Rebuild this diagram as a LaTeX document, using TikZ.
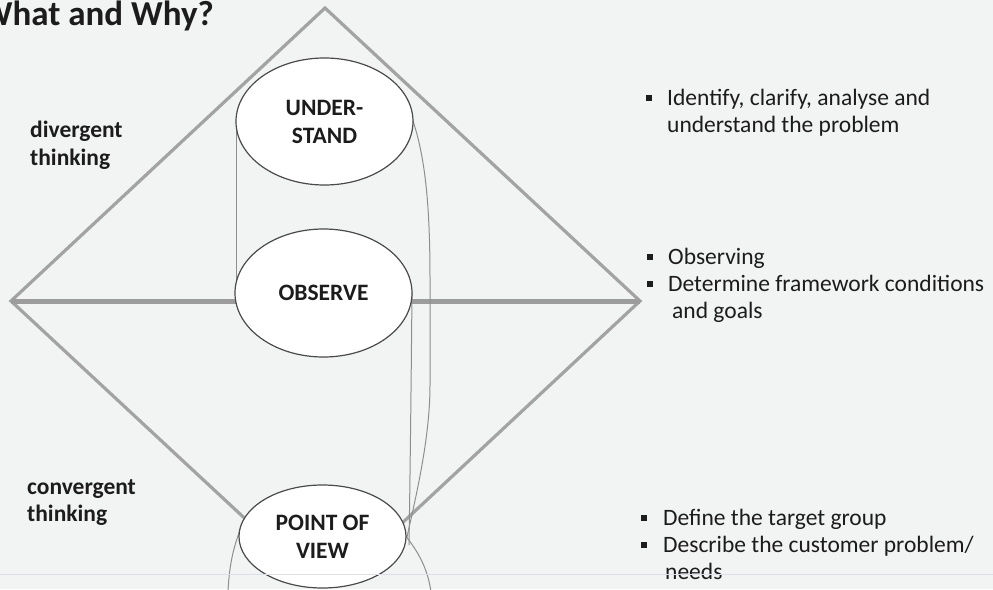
\documentclass[tikz,border=0pt]{standalone}
\usepackage{fontspec}
\setmainfont{Carlito}
\usetikzlibrary{shapes.geometric}
\definecolor{bg}{HTML}{F2F3F3}
\definecolor{dia}{HTML}{A3A3A3}
\definecolor{hl}{HTML}{9C9C9C}
\definecolor{edge}{HTML}{4A4A4A}
\definecolor{thinc}{HTML}{8E8E8E}
\definecolor{txt}{HTML}{1C1C1C}
\definecolor{seam}{HTML}{DCE0E5}
\begin{document}
\begin{tikzpicture}[x=1pt,y=-1pt,
  diaedge/.style={draw=dia, line width=3.2pt, line join=miter},
  midline/.style={draw=hl, line width=5pt},
  thinline/.style={draw=thinc, line width=1pt},
  ell/.style={ellipse, draw=edge, line width=1.2pt, fill=white, inner sep=0pt, align=center,
    text=txt, font=\bfseries\fontsize{23.5}{28}\selectfont},
  rtext/.style={inner sep=0pt, anchor=base west, text=txt, font=\fontsize{23.5}{28}\selectfont},
  ltext/.style={inner sep=0pt, anchor=base west, text=txt, font=\bfseries\fontsize{23.5}{28}\selectfont},
  blt/.style={rectangle, fill=txt, minimum size=6.5pt, inner sep=0pt},
  titletext/.style={inner sep=0pt, anchor=base east, text=txt, font=\bfseries\fontsize{35}{42}\selectfont}
]
\path[use as bounding box, fill=bg] (0,0) rectangle (993,589);

% diamond (bottom apex hidden behind the POINT OF VIEW ellipse)
\coordinate (top) at (325,8);
\coordinate (lv) at (11,301);
\coordinate (rv) at (640,301);
\coordinate (lb) at (268,540);
\coordinate (rb) at (384,540);
\draw[diaedge] (lb) -- (lv) -- (top) -- (rv) -- (rb);
\draw[midline] (lv) -- (rv);

% helper coordinates for thin outlines
\coordinate (ua) at (413,121);
\coordinate (ub) at (236,121);
\coordinate (ob) at (236,293);
\coordinate (oa) at (412,293);
\coordinate (pb) at (409,545);
\coordinate (pa) at (407,537);
\coordinate (pl) at (241,528);
\coordinate (plb) at (228,592);
\coordinate (pr) at (404,534);
\coordinate (prb) at (431,592);

\draw[thinline] (ub) -- (ob);
\draw[thinline] (oa) .. controls (411,400) and (410,480) .. (pb);
\draw[thinline] (ua) .. controls (426,160) and (430,210) .. (430,280)
   -- (430,385) .. controls (430,440) and (415,500) .. (pa);
\draw[thinline] (pl) .. controls (232,550) and (229,570) .. (plb);
\draw[thinline] (pr) .. controls (419,552) and (428,570) .. (prb);

% ellipses
\node[ell, minimum width=177pt, minimum height=127pt] (u) at (324.5,121.5) {UNDER-\\STAND};
\node[ell, minimum width=177pt, minimum height=128pt] (o) at (323.5,293) {OBSERVE};
\node[ell, minimum width=167pt, minimum height=103pt] (p) at (322.5,536.5) {POINT OF\\VIEW};

% title
\node[titletext] (title) at (214,25) {What and Why?};

% left labels
\node[ltext] (d1) at (30,137) {divergent};
\node[ltext] (d2) at (30,165) {thinking};
\node[ltext] (c1) at (27,494) {convergent};
\node[ltext] (c2) at (27,521) {thinking};

% right bullets
\node[blt] (b1) at (649,98) {};
\node[rtext] (t1a) at (667,105) {Identify, clarify, analyse and};
\node[rtext] (t1b) at (667,132) {understand the problem};

\node[blt] (b2) at (650,257) {};
\node[rtext] (t2a) at (668,264) {Observing};
\node[blt] (b3) at (650,284) {};
\node[rtext] (t2b) at (668,291) {Determine framework conditions};
\node[rtext] (t2c) at (672,318) {and goals};

\node[blt] (b4) at (644,518) {};
\node[rtext] (t3a) at (663,525) {Define the target group};
\node[blt] (b5) at (644,545) {};
\node[rtext] (t3b) at (663,552) {Describe the customer problem/};
\node[rtext] (t3c) at (665,579) {needs};

% faint scan seam
\coordinate (sl) at (0,574);
\coordinate (sr) at (993,574);
\draw[draw=seam, line width=1pt] (sl) -- (sr);
\end{tikzpicture}
\end{document}
